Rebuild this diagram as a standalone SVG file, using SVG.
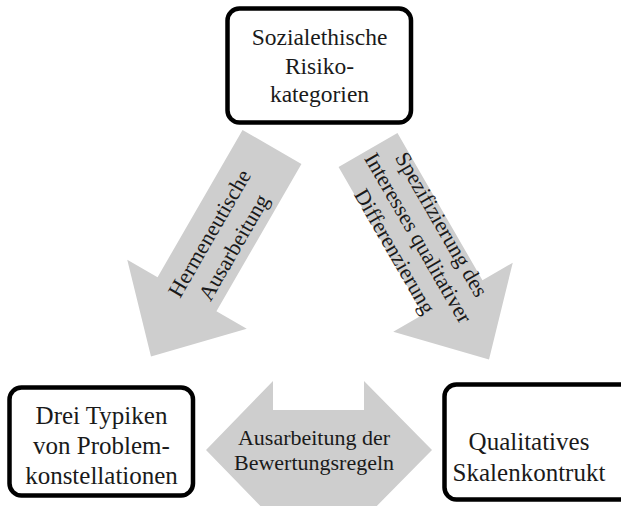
<svg xmlns="http://www.w3.org/2000/svg" xmlns:xlink="http://www.w3.org/1999/xlink" width="621" height="506" viewBox="0 0 621 506">
<style>
.box{fill:#fff;stroke:#000;stroke-width:4.5}
.arr{fill:#cecece;stroke:none}
.t{font-family:"Liberation Serif","Times New Roman",serif;fill:#1a1a1a;text-anchor:middle}
.tb{font-size:23.5px}
.tl{font-size:25px}
.ta{font-size:22px}
</style>
<defs>
<path id="diag" d="M0,-34 L170,-34 L170,-69 L242,0 L170,69 L170,34 L0,34 Z"/>
</defs>
<rect width="621" height="506" fill="#fff"/>
<g id="connectors">
<g id="arrow-left">
<use xlink:href="#diag" class="arr" transform="translate(272,147) rotate(120)"/>
<g transform="translate(221,240) rotate(-60)">
<text class="t ta" x="0" y="-6">Hermeneutische</text>
<text class="t ta" x="0" y="22">Ausarbeitung</text>
</g>
</g>
<g id="arrow-right">
<use xlink:href="#diag" class="arr" transform="translate(368,150) rotate(60)"/>
<g transform="translate(418,238) rotate(60)">
<text class="t ta" x="0" y="-20">Spezifizierung des</text>
<text class="t ta" x="0" y="7">Interesses qualitativer</text>
<text class="t ta" x="0" y="34">Differenzierung</text>
</g>
</g>
<g id="arrow-double">
<path class="arr" d="M206,450 L273,381 L273,410 L364,410 L364,381 L432,450 L364,519 L273,519 Z"/>
<text class="t ta" x="314" y="445">Ausarbeitung der</text>
<text class="t ta" x="314" y="470">Bewertungsregeln</text>
</g>
</g>
<g id="node-top">
<rect class="box" x="227.5" y="8.5" width="183.5" height="114" rx="12"/>
<text class="t tb" x="319.5" y="45">Sozialethische</text>
<text class="t tb" x="319.5" y="74">Risiko-</text>
<text class="t tb" x="319.5" y="102">kategorien</text>
</g>
<g id="node-left">
<rect class="box" x="9.5" y="387.5" width="183.5" height="108" rx="12"/>
<text class="t tl" x="101.5" y="424">Drei Typiken</text>
<text class="t tl" x="101.5" y="454">von Problem-</text>
<text class="t tl" x="101.5" y="484">konstellationen</text>
</g>
<g id="node-right">
<rect class="box" x="444.5" y="384.5" width="190" height="115" rx="12"/>
<text class="t tl" x="529" y="450">Qualitatives</text>
<text class="t tl" x="529" y="481">Skalenkontrukt</text>
</g>
</svg>
